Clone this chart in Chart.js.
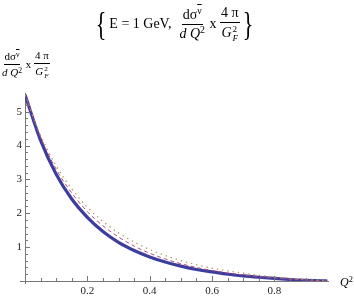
<!DOCTYPE html>
<html>
<head>
<meta charset="utf-8">
<script src="https://cdn.jsdelivr.net/npm/chart.js@4"></script>
<style>
  html, body { margin:0; padding:0; background:#fff; }
  #wrap { position:relative; width:354px; height:297px; overflow:hidden; }
  #c { position:absolute; left:0; top:0; }
  .m { position:absolute; font-family:'Liberation Serif','DejaVu Serif',serif; color:#000; white-space:nowrap; line-height:1; }
  .row { display:flex; align-items:center; }
  .frac { display:inline-flex; flex-direction:column; align-items:center; }
  .frac .num { border-bottom:1px solid #000; padding:0 1px 2px 1px; }
  .frac .den { padding:2px 1px 0 1px; }
  .ol { text-decoration:overline; }
  .sup { font-size:70%; position:relative; top:-0.45em; }
  .ss { display:inline-flex; flex-direction:column; font-size:65%; vertical-align:middle; line-height:0.95; margin-left:1px; }
  .brace { font-size:34px; transform:scaleX(0.65); display:inline-block; }
</style>
</head>
<body>
<div id="wrap">
  <canvas id="c" width="354" height="297"></canvas>
  <div class="m row" id="title" style="left:93px; top:5px; font-size:14px; height:38px;">
    <span class="brace">{</span>
    <span>E = 1 GeV,&nbsp;&nbsp;</span>
    <span class="frac"><span class="num">dσ<span class="sup"><span class="ol">ν</span></span></span><span class="den"><i>d</i> <i>Q</i><span class="sup">2</span></span></span>
    <span>&nbsp;x&nbsp;</span>
    <span class="frac"><span class="num">4 π</span><span class="den"><i>G</i><span class="ss"><span>2</span><span><i>F</i></span></span></span></span>
    <span class="brace">}</span>
  </div>
  <div class="m row" id="ylab" style="left:1px; top:50px; font-size:11px;">
    <span class="frac"><span class="num">dσ<span class="sup"><span class="ol">ν</span></span></span><span class="den"><i>d</i> <i>Q</i><span class="sup">2</span></span></span>
    <span>&nbsp;x&nbsp;</span>
    <span class="frac"><span class="num">4 π</span><span class="den"><i>G</i><span class="ss"><span>2</span><span><i>F</i></span></span></span></span>
  </div>
  <div class="m" id="xlab" style="left:340px; top:276px; font-size:12px;"><i>Q</i><span class="sup">2</span></div>
</div>
<script>
// ---- data ----
const q2 =        [0, 0.05, 0.10, 0.15, 0.20, 0.25, 0.30, 0.35, 0.40, 0.45, 0.50, 0.55, 0.60, 0.65, 0.70, 0.75, 0.80, 0.85, 0.90, 0.95, 0.97];
const solidVals = [5.50, 4.15, 3.15, 2.42, 1.88, 1.46, 1.14, 0.90, 0.71, 0.56, 0.44, 0.34, 0.27, 0.20, 0.15, 0.11, 0.075, 0.045, 0.022, 0.008, 0.0];
const dashVals =  [5.50, 4.25, 3.30, 2.60, 2.05, 1.63, 1.30, 1.03, 0.82, 0.65, 0.51, 0.40, 0.31, 0.24, 0.18, 0.13, 0.09, 0.055, 0.03, 0.01, 0.0];
const dotVals =   [5.50, 4.30, 3.40, 2.72, 2.18, 1.76, 1.42, 1.15, 0.93, 0.75, 0.60, 0.48, 0.38, 0.30, 0.23, 0.17, 0.12, 0.08, 0.045, 0.02, 0.005];
const xTickLabels = [0.2, 0.4, 0.6, 0.8];
const yTickLabels = [1, 2, 3, 4, 5];

const pts = (vals) => q2.map((x, i) => ({x: x, y: vals[i]}));
const near = (a, b) => Math.abs(a - b) < 1e-6;
const isMult = (v, s) => Math.abs(v / s - Math.round(v / s)) < 1e-6;

const AXIS = '#777';
const tickFont = {family: "'Liberation Serif', 'DejaVu Serif', serif", size: 11};

const inwardTicks = {
  id: 'inwardTicks',
  afterDraw(chart) {
    const {ctx, chartArea, scales} = chart;
    ctx.save();
    ctx.strokeStyle = AXIS;
    ctx.lineWidth = 1;
    scales.x.ticks.forEach(t => {
      const v = t.value;
      if (v <= 0 || !isMult(v, 0.05)) return;
      const len = isMult(v, 0.2) ? 5 : 3;
      const px = Math.round(scales.x.getPixelForValue(v)) + 0.5;
      ctx.beginPath();
      ctx.moveTo(px, chartArea.bottom);
      ctx.lineTo(px, chartArea.bottom - len);
      ctx.stroke();
    });
    scales.y.ticks.forEach(t => {
      const v = t.value;
      if (v <= 0 || !isMult(v, 0.2)) return;
      const len = isMult(v, 1) ? 5 : 3;
      const py = Math.round(scales.y.getPixelForValue(v)) + 0.5;
      ctx.beginPath();
      ctx.moveTo(chartArea.left, py);
      ctx.lineTo(chartArea.left + len, py);
      ctx.stroke();
    });
    // small axis overhang at the origin
    ctx.beginPath();
    ctx.moveTo(chartArea.left - 5, chartArea.bottom + 0.5);
    ctx.lineTo(chartArea.left, chartArea.bottom + 0.5);
    ctx.moveTo(chartArea.left + 0.5, chartArea.bottom);
    ctx.lineTo(chartArea.left + 0.5, chartArea.bottom + 3);
    ctx.stroke();
    ctx.restore();
  }
};

new Chart(document.getElementById('c'), {
  type: 'line',
  data: {
    datasets: [
      {data: pts(solidVals), borderColor: '#3d3d9e', borderWidth: 3.2, pointRadius: 0, cubicInterpolationMode: 'monotone', order: 3},
      {data: pts(dashVals), borderColor: '#b04c8c', borderWidth: 1, borderDash: [4, 3], pointRadius: 0, cubicInterpolationMode: 'monotone', order: 2},
      {data: pts(dotVals), borderColor: '#b39650', borderWidth: 1.3, borderDash: [1.3, 4], pointRadius: 0, cubicInterpolationMode: 'monotone', order: 1}
    ]
  },
  options: {
    responsive: false,
    animation: false,
    events: [],
    layout: {padding: {left: 0, right: 26, top: 93, bottom: 0}},
    plugins: {legend: {display: false}, tooltip: {enabled: false}},
    scales: {
      x: {
        type: 'linear', min: 0, max: 0.972,
        grid: {display: false, drawTicks: false},
        border: {display: true, color: AXIS, width: 1},
        ticks: {
          stepSize: 0.05, autoSkip: false, maxRotation: 0, padding: 4,
          font: tickFont, color: '#222',
          callback: (v) => { const m = xTickLabels.find(l => near(l, v)); return m !== undefined ? m.toFixed(1) : ''; }
        },
        afterFit(s) { s.height = 16; }
      },
      y: {
        type: 'linear', min: 0, max: 5.55,
        grid: {display: false, drawTicks: false},
        border: {display: true, color: AXIS, width: 1},
        ticks: {
          stepSize: 0.2, autoSkip: false, padding: 3,
          font: tickFont, color: '#222',
          callback: (v) => { const m = yTickLabels.find(l => near(l, v)); return m !== undefined ? String(m) : ''; }
        },
        afterFit(s) { s.width = 25; }
      }
    }
  },
  plugins: [inwardTicks]
});
</script>
</body>
</html>
